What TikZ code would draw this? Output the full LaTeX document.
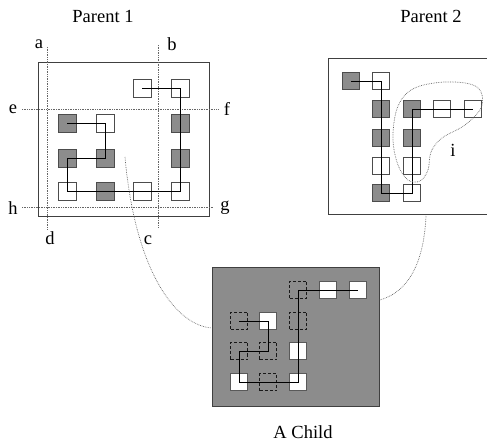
\documentclass[tikz,border=0pt]{standalone}
\usepackage{fontspec}
\setmainfont{Liberation Serif}
\begin{document}
\begin{tikzpicture}[x=1pt,y=-1pt,
  lbl/.style={font=\fontsize{18.5}{20}\selectfont, inner sep=0pt},
  sqbase/.style={rectangle, minimum size=#1, inner sep=0pt, line width=0.9pt},
  wsq/.style={sqbase=18pt, draw=black!70, fill=white},
  gsq/.style={sqbase=18pt, draw=black!70, fill=black!45},
  wsqs/.style={sqbase=17pt, draw=black!70, fill=white},
  gsqs/.style={sqbase=17pt, draw=black!70, fill=black!45},
  cwsq/.style={sqbase=17pt, draw=black!65, fill=white},
  cgsq/.style={sqbase=17pt, draw=black!90, densely dashed, fill=black!45},
  chain/.style={draw=black, line width=0.9pt},
  dotl/.style={draw=black!60, densely dotted, line width=0.7pt},
  frame/.style={draw=black!75, line width=0.9pt},
]
\useasboundingbox (0,0) rectangle (487,443);
\clip (0,0) rectangle (487,443);

% titles
\node[lbl] (t1) at (103,16) {Parent 1};
\node[lbl] (t2) at (431,16) {Parent 2};
\node[lbl] (t3) at (303,432) {A Child};

% frames
\node[frame, rectangle, minimum width=171pt, minimum height=154pt, inner sep=0pt] (P1) at (123.5,139) {};
\node[frame, rectangle, minimum width=170pt, minimum height=156pt, inner sep=0pt] (P2) at (413,136) {};
\node[frame, rectangle, fill=black!45, minimum width=167pt, minimum height=139pt, inner sep=0pt] (CH) at (295.5,336.5) {};

% cut lines
\coordinate (a1) at (47,47); \coordinate (a2) at (47,230);
\coordinate (b1) at (158,45); \coordinate (b2) at (158,227);
\coordinate (e1) at (22,109); \coordinate (e2) at (218,109);
\coordinate (h1) at (22,207); \coordinate (h2) at (213,207);
\draw[dotl] (a1) -- (a2);
\draw[dotl] (b1) -- (b2);
\draw[dotl] (e1) -- (e2);
\draw[dotl] (h1) -- (h2);
\node[lbl] (la) at (39,44) {a};
\node[lbl] (lb) at (172,44) {b};
\node[lbl] (lc) at (148,240) {c};
\node[lbl] (ld) at (50,238) {d};
\node[lbl] (le) at (13,109) {e};
\node[lbl] (lf) at (227,109) {f};
\node[lbl] (lg) at (225,208) {g};
\node[lbl] (lh) at (13,208) {h};

% Parent 1 squares
\node[wsq] (p13) at (142,88) {};
\node[wsq] (p14) at (180,88) {};
\node[gsq] (p21) at (67,123) {};
\node[wsq] (p22) at (105,123) {};
\node[gsq] (p24) at (180,123) {};
\node[gsq] (p31) at (67,158) {};
\node[gsq] (p32) at (105,158) {};
\node[gsq] (p34) at (180,158) {};
\node[wsq] (p41) at (67,191) {};
\node[gsq] (p42) at (105,191) {};
\node[wsq] (p43) at (142,191) {};
\node[wsq] (p44) at (180,191) {};
\draw[chain] (p21.center) -- (p22.center) -- (p32.center) -- (p31.center) -- (p41.center) -- (p44.center) -- (p14.center) -- (p13.center);

% Parent 2 squares
\node[gsqs] (q1) at (351,81) {};
\node[wsqs] (q2) at (381,81) {};
\node[gsqs] (q3) at (381,109) {};
\node[gsqs] (q4) at (412,109) {};
\node[wsqs] (q5) at (442,109) {};
\node[wsqs] (q6) at (473,109) {};
\node[gsqs] (q7) at (381,138) {};
\node[gsqs] (q8) at (412,138) {};
\node[wsqs] (q9) at (381,166) {};
\node[wsqs] (q10) at (412,166) {};
\node[gsqs] (q11) at (381,193) {};
\node[wsqs] (q12) at (412,193) {};
\draw[chain] (q1.center) -- (q2.center) -- (q11.center) -- (q12.center) -- (q4.center) -- (q6.center);

% region i
\draw[dotl] plot[smooth cycle, tension=0.6] coordinates {(420,86) (445,82) (470,84) (481,92) (481,108) (465,125) (442,138) (431,152) (428,170) (420,181) (408,180) (398,165) (393,140) (396,112) (405,95)};
\node[lbl] (li) at (453,150) {i};

% Child squares
\node[cgsq] (k1) at (298,290) {};
\node[cwsq] (k2) at (328,290) {};
\node[cwsq] (k3) at (358,290) {};
\node[cgsq] (k4) at (239,321) {};
\node[cwsq] (k5) at (268,321) {};
\node[cgsq] (k6) at (298,321) {};
\node[cgsq] (k7) at (239,351) {};
\node[cgsq] (k8) at (268,351) {};
\node[cwsq] (k9) at (298,351) {};
\node[cwsq] (k10) at (239,382) {};
\node[cgsq] (k11) at (268,382) {};
\node[cwsq] (k12) at (298,382) {};
\draw[chain] (k4.center) -- (k5.center) -- (k8.center) -- (k7.center) -- (k10.center) -- (k12.center) -- (k1.center) -- (k3.center);

% inheritance curves
\coordinate (s1) at (125,157);
\coordinate (s2) at (426,216);
\draw[dotl] (s1) .. controls (135,270) and (175,325) .. (CH.west |- 0,328);
\draw[dotl] (s2) .. controls (424,260) and (410,292) .. (CH.east |- 0,300);
\end{tikzpicture}
\end{document}
